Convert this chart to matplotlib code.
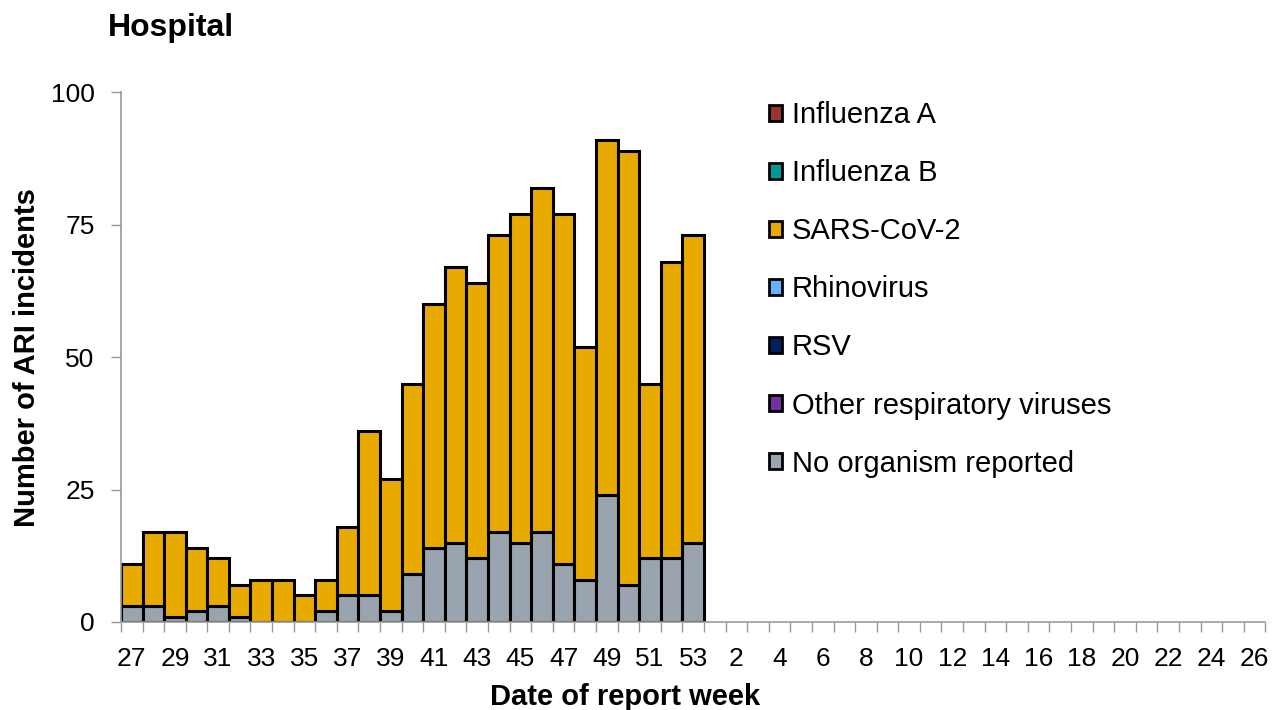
import numpy as np
import matplotlib
matplotlib.use("Agg")
import matplotlib.pyplot as plt
from matplotlib.patches import Patch

plt.rcParams['font.family'] = ['Liberation Sans', 'DejaVu Sans']

# report weeks: 27..53 then 1..26
weeks = list(range(27, 54)) + list(range(1, 27))
tick_labels = [str(w) if i % 2 == 0 else "" for i, w in enumerate(weeks)]

# data only for weeks 27-53
totals = [11, 17, 17, 14, 12, 7, 8, 8, 5, 8, 18, 36, 27, 45, 60, 67, 64,
          73, 77, 82, 77, 52, 91, 89, 45, 68, 73]
no_organism = [3, 3, 1, 2, 3, 1, 0, 0, 0, 2, 5, 5, 2, 9, 14, 15, 12,
               17, 15, 17, 11, 8, 24, 7, 12, 12, 15]
sars_cov_2 = [t - n for t, n in zip(totals, no_organism)]
zeros = [0] * len(totals)
influenza_a = zeros
influenza_b = zeros
rhinovirus = zeros
rsv = zeros
other_viruses = zeros

series_names = ["Influenza A", "Influenza B", "SARS-CoV-2", "Rhinovirus",
                "RSV", "Other respiratory viruses", "No organism reported"]
colors = {"Influenza A": "#993333", "Influenza B": "#009999",
          "SARS-CoV-2": "#E8A900", "Rhinovirus": "#66B2FF",
          "RSV": "#002060", "Other respiratory viruses": "#7030A0",
          "No organism reported": "#99A4AE"}

fig = plt.figure(figsize=(12.73, 7.10), dpi=100)
ax = fig.add_axes([0.095, 0.124, 0.899, 0.746])

x = np.arange(len(totals))
bottom = np.zeros(len(totals))
# stack from bottom up
stack = [("No organism reported", no_organism), ("SARS-CoV-2", sars_cov_2)]
for name, vals in stack:
    ax.bar(x, vals, width=1.0, bottom=bottom, color=colors[name],
           edgecolor="black", linewidth=2.2)
    bottom += np.array(vals)

ax.set_xlim(-0.5, len(weeks) - 0.5)
ax.set_ylim(0, 100)
ax.set_yticks([0, 25, 50, 75, 100])

ax.set_xticks(np.arange(len(weeks)))
ax.set_xticklabels(tick_labels)
ax.set_xticks(np.arange(len(weeks) + 1) - 0.5, minor=True)
ax.tick_params(axis="x", which="major", length=0, pad=18, labelsize=19)
ax.tick_params(axis="x", which="minor", length=7, color="#999999", width=1)
ax.tick_params(axis="y", length=7, color="#999999", width=1, labelsize=19, pad=12)

for s in ["top", "right"]:
    ax.spines[s].set_visible(False)
for s in ["left", "bottom"]:
    ax.spines[s].set_color("#999999")
    ax.spines[s].set_linewidth(1.2)

ax.set_ylabel("Number of ARI incidents", fontsize=21, fontweight="bold", labelpad=7)
fig.text(0.491, 0.019, "Date of report week", fontsize=21, fontweight="bold",
         ha="center", va="center")
fig.text(0.085, 0.961, "Hospital", fontsize=23, fontweight="bold", va="center")

handles = [Patch(facecolor=colors[n], edgecolor="black", linewidth=2) for n in series_names]
ax.legend(handles, series_names, loc="upper left", bbox_to_anchor=(0.556, 1.005),
          frameon=False, fontsize=21, handlelength=0.45, handleheight=0.45,
          handletextpad=0.33, labelspacing=1.03, borderaxespad=0)

fig.savefig("out.png", dpi=100)
